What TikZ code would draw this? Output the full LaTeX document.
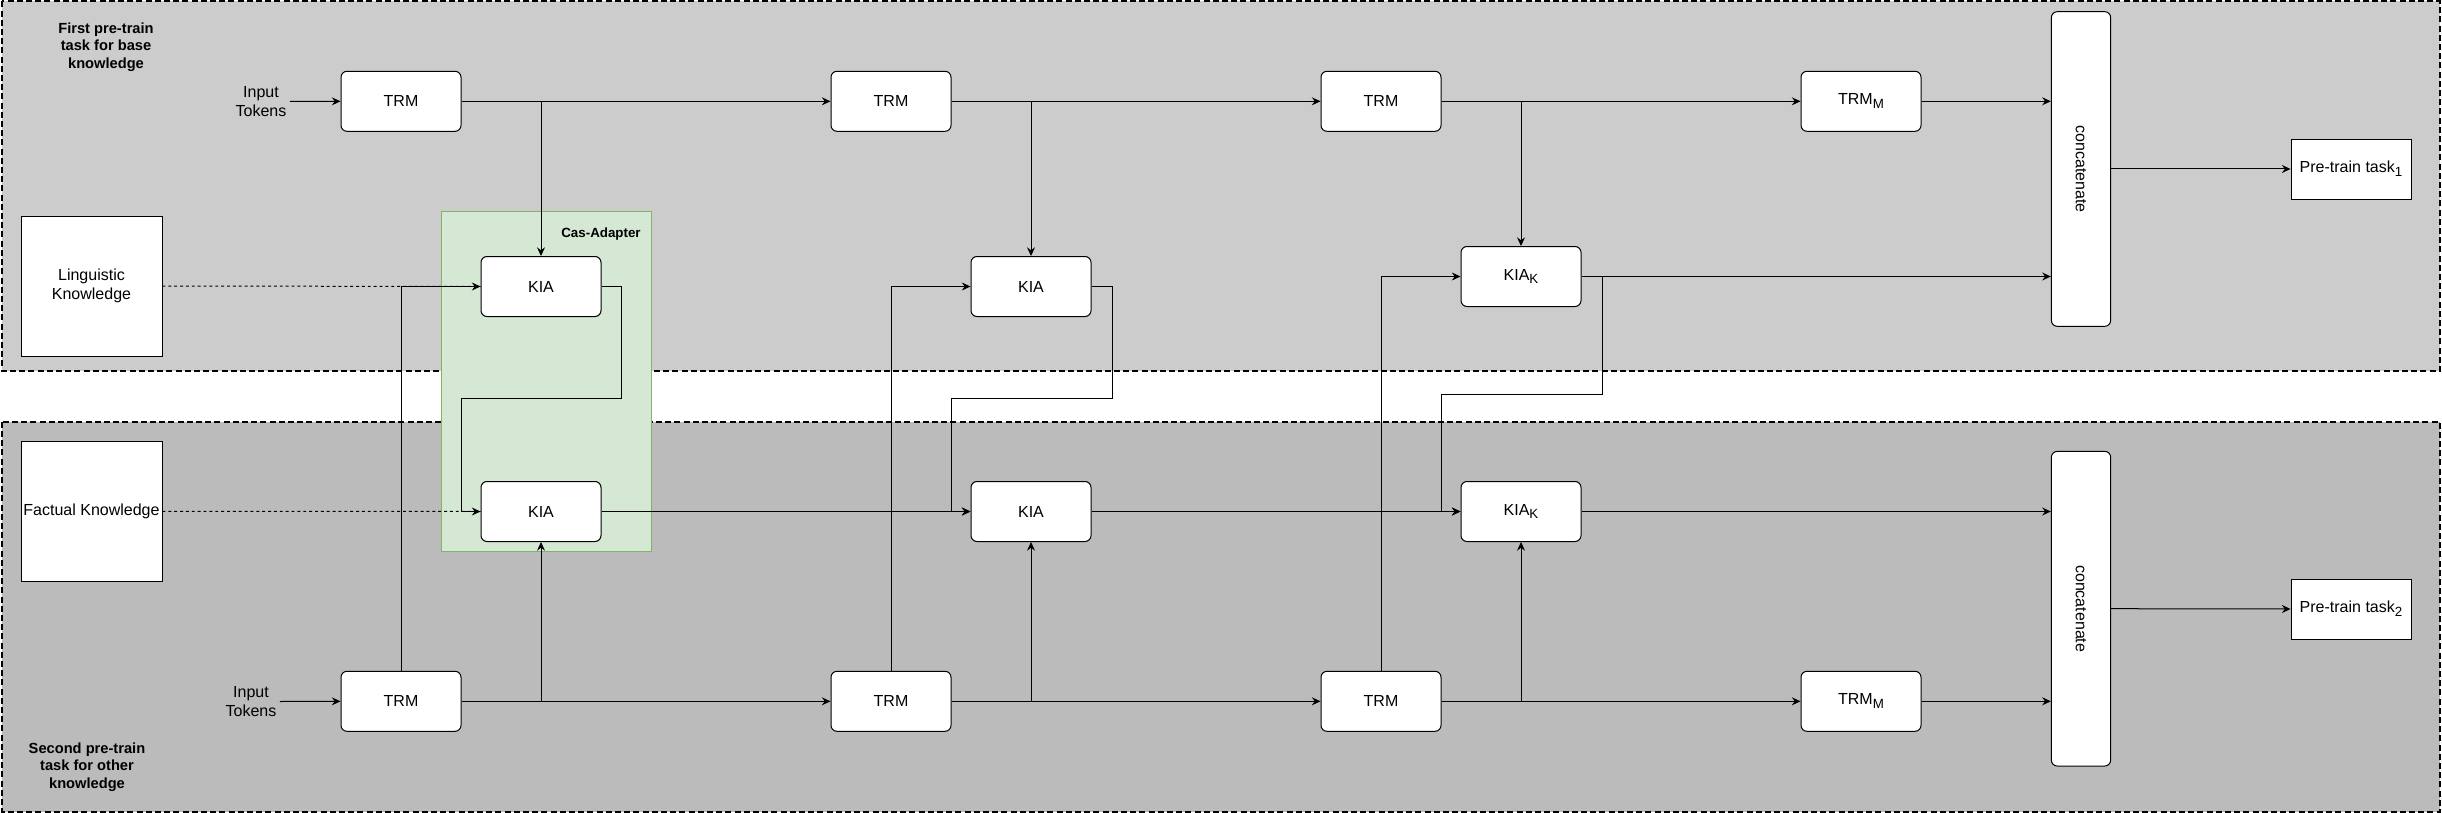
\documentclass[tikz,border=0pt]{standalone}
\usepackage{fontspec}
\setmainfont{Liberation Sans}
\usetikzlibrary{arrows.meta,calc}
\definecolor{topbg}{HTML}{CCCCCC}
\definecolor{botbg}{HTML}{BBBBBB}
\definecolor{greenfill}{HTML}{D5E8D4}
\definecolor{greenline}{HTML}{82B366}
\newcommand{\mysub}[1]{\raisebox{-0.45ex}{\fontsize{10}{12}\selectfont #1}}
\begin{document}
\begin{tikzpicture}[x=0.75pt,y=-0.75pt,
  panel/.style={draw=black,line width=1.5pt,dash pattern=on 4.5pt off 2.4pt},
  rbox/.style={draw=black,fill=white,line width=0.75pt,rounded corners=4.5pt,minimum width=90pt,minimum height=45pt,inner sep=0pt,font=\fontsize{12}{14.4}\selectfont},
  sbox/.style={draw=black,fill=white,line width=0.7pt,inner sep=0pt,font=\fontsize{12}{14.4}\selectfont,align=center},
  catbox/.style={draw=black,fill=white,line width=0.75pt,rounded corners=4.5pt,minimum width=44.5pt,minimum height=236pt,inner sep=0pt},
  plain/.style={inner sep=2.5pt,align=center,font=\fontsize{12}{14.4}\selectfont},
  ttl/.style={align=center,font=\fontsize{11}{13.2}\selectfont\bfseries},
  conn/.style={line width=0.75pt,-{Stealth[length=6.5pt,width=6pt,inset=2.2pt]}},
  dconn/.style={line width=0.75pt,dash pattern=on 2.2pt off 2.2pt}]
\useasboundingbox (0,0) rectangle (2442,813);
% panels
\draw[panel,fill=topbg] (2,1.5) rectangle (2440,370.7);
\draw[panel,fill=botbg] (2,421.7) rectangle (2440,811.5);
% cas-adapter
\draw[draw=greenline,fill=greenfill,line width=0.75pt] (441,211.3) rectangle (651,551.7);
\node[font=\fontsize{10}{12}\selectfont\bfseries] (cas) at (601,234) {Cas-Adapter};
% titles
\node[ttl] (t1) at (106,47) {First pre-train\\task for base\\knowledge};
\node[ttl] (t2) at (87,767) {Second pre-train\\task for other\\knowledge};
% knowledge boxes
\node[sbox,minimum width=105.75pt,minimum height=105pt] (ling) at (91.5,286) {Linguistic\\Knowledge};
\node[sbox,minimum width=105.75pt,minimum height=105pt] (fact) at (91.5,511.3) {Factual Knowledge};
% inputs
\node[plain] (in1) at (261,101.5) {Input\\Tokens};
\node[plain] (in2) at (251,701.5) {Input\\Tokens};
% top row
\node[rbox] (tA1) at (401,101.3) {TRM};
\node[rbox] (tA2) at (891,101.3) {TRM};
\node[rbox] (tA3) at (1381,101.3) {TRM};
\node[rbox] (tAM) at (1861,101.3) {TRM\mysub{M}};
\node[rbox] (kA1) at (541,286.5) {KIA};
\node[rbox] (kA2) at (1031,286.5) {KIA};
\node[rbox] (kAK) at (1521,276.5) {KIA\mysub{K}};
\node[catbox] (c1) at (2081,169) {};
\node[rotate=-90,font=\fontsize{12}{14.4}\selectfont] (c1t) at (c1.center) {concatenate};
\node[sbox,minimum width=90pt,minimum height=45pt] (task1) at (2351,169) {Pre-train task\mysub{1}};
% bottom row
\node[rbox] (kB1) at (541,511.5) {KIA};
\node[rbox] (kB2) at (1031,511.5) {KIA};
\node[rbox] (kBK) at (1521,511.5) {KIA\mysub{K}};
\node[rbox] (tB1) at (401,701.3) {TRM};
\node[rbox] (tB2) at (891,701.3) {TRM};
\node[rbox] (tB3) at (1381,701.3) {TRM};
\node[rbox] (tBM) at (1861,701.3) {TRM\mysub{M}};
\node[catbox] (c2) at (2081,608.7) {};
\node[rotate=-90,font=\fontsize{12}{14.4}\selectfont] (c2t) at (c2.center) {concatenate};
\node[sbox,minimum width=90pt,minimum height=45pt] (task2) at (2351,609) {Pre-train task\mysub{2}};
% dashed knowledge links
\draw[dconn] (ling.east) -- (kA1.west);
\draw[dconn] (fact.east) -- (kB1.west);
% top connectors
\draw[conn] (in1.east) -- (tA1.west);
\draw[conn] (tA1.east) -- (tA2.west);
\draw[conn] (tA2.east) -- (tA3.west);
\draw[conn] (tA3.east) -- (tAM.west);
\draw[conn] (tA1.east -| kA1.north) -- (kA1.north);
\draw[conn] (tA2.east -| kA2.north) -- (kA2.north);
\draw[conn] (tA3.east -| kAK.north) -- (kAK.north);
\draw[conn] (tAM.east) -- (tAM.east -| c1.west);
\draw[conn] (kAK.east) -- (kAK.east -| c1.west);
\draw[conn] (c1.east) -- (task1.west);
% bottom connectors
\draw[conn] (in2.east) -- (tB1.west);
\draw[conn] (tB1.east) -- (tB2.west);
\draw[conn] (tB2.east) -- (tB3.west);
\draw[conn] (tB3.east) -- (tBM.west);
\draw[conn] (tB1.east -| kB1.south) -- (kB1.south);
\draw[conn] (tB2.east -| kB2.south) -- (kB2.south);
\draw[conn] (tB3.east -| kBK.south) -- (kBK.south);
\draw[conn] (kB1.east) -- (kB2.west);
\draw[conn] (kB2.east) -- (kBK.west);
\draw[conn] (kBK.east) -- (kBK.east -| c2.west);
\draw[conn] (tBM.east) -- (tBM.east -| c2.west);
\draw[conn] (c2.east) -- (task2.west);
% cross connectors: bottom TRM up to top KIA
\draw[conn] (tB1.north) |- (kA1.west);
\draw[conn] (tB2.north) |- (kA2.west);
\draw[conn] (tB3.north) |- (kAK.west);
% cascade: top KIA down to bottom KIA
\draw[conn] (kA1.east) -- ++(20,0) |- (461,398.7) |- (kB1.west);
\draw[conn] (kA2.east) -- ++(20.5,0) |- (951.4,398.3) |- (kB2.west);
\draw[conn] (kAK.east) -- ++(20.5,0) |- (1441.6,394) |- (kBK.west);
\end{tikzpicture}
\end{document}
